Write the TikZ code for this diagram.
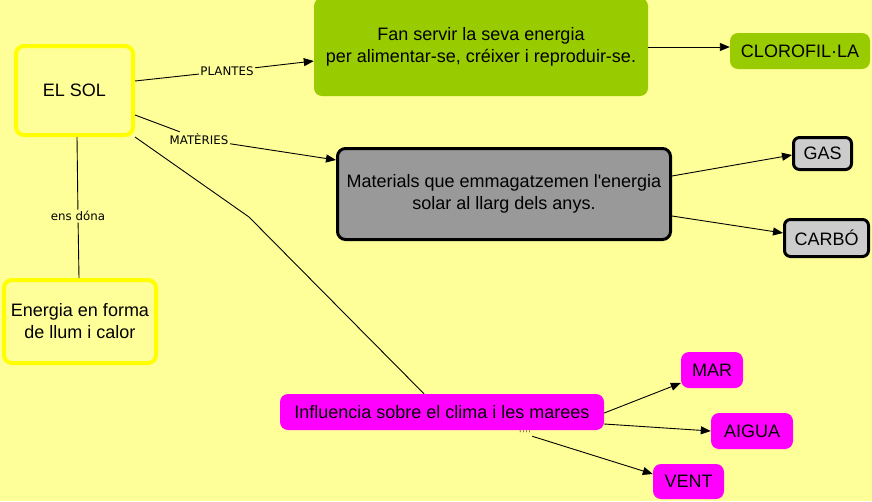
\documentclass[tikz,border=0pt]{standalone}
\usepackage{fontspec}
\setmainfont{Liberation Sans}
\newfontfamily\labfont{DejaVu Sans}
\usetikzlibrary{arrows.meta}
\definecolor{bgc}{HTML}{FFFF99}
\definecolor{sunc}{HTML}{FFFF00}
\definecolor{greenc}{HTML}{99CC00}
\definecolor{grayc}{HTML}{999999}
\definecolor{lgrayc}{HTML}{CCCCCC}
\definecolor{magc}{HTML}{FF00FF}
\begin{document}
\begin{tikzpicture}[x=1pt,y=-1pt,
  every node/.style={font=\fontsize{18}{22}\selectfont, align=center, inner sep=0pt},
  box/.style={rectangle, rounded corners=8pt},
  sunbox/.style={box, draw=sunc, line width=4pt, fill=bgc},
  greenbox/.style={box, fill=greenc},
  graybox/.style={box, draw=black, line width=3pt, fill=grayc},
  lgbox/.style={box, rounded corners=6pt, draw=black, line width=3pt, fill=lgrayc},
  magbox/.style={box, fill=magc},
  lab/.style={font=\labfont\fontsize{11.8}{13}\selectfont, fill=bgc, inner sep=1.5pt},
  conn/.style={line width=0.9pt, black},
  arr/.style={conn, -{Triangle[length=10pt,width=8pt]}}
]
\fill[bgc] (0,0) rectangle (872,501);
\useasboundingbox (0,0) rectangle (872,501);

% nodes
\node[sunbox, minimum width=117pt, minimum height=89pt] (sol) at (74.5,90.5) {EL SOL};
\node[sunbox, minimum width=152pt, minimum height=83pt] (energia) at (80,321.5) {Energia en forma\\de llum i calor};
\node[greenbox, minimum width=334pt, minimum height=98pt] (fan) at (481,47) {Fan servir la seva energia\\per alimentar-se, créixer i reproduir-se.};
\node[greenbox, minimum width=140pt, minimum height=36pt] (clor) at (800,51) {CLOROFIL·LA};
\node[graybox, minimum width=333pt, minimum height=91pt] (mat) at (504,194) {Materials que emmagatzemen l\textquotesingle energia\\solar al llarg dels anys.};
\node[lgbox, minimum width=58pt, minimum height=32pt] (gas) at (822.5,153.5) {GAS};
\node[lgbox, minimum width=84pt, minimum height=37pt] (carbo) at (826.5,238) {CARBÓ};
\node[magbox, minimum width=324pt, minimum height=36pt] (infl) at (442,412) {Influencia sobre el clima i les marees};
\node[magbox, minimum width=62pt, minimum height=36pt] (mar) at (712,370) {MAR};
\node[magbox, minimum width=82pt, minimum height=36pt] (aigua) at (752,431) {AIGUA};
\node[magbox, minimum width=71pt, minimum height=35pt] (vent) at (688.5,481.5) {VENT};

% labels
\node[lab] (lplant) at (227,71) {PLANTES};
\node[lab] (lmat) at (199,139) {MATÈRIES};
\node[lab] (lens) at (78,216) {ens dóna};
\coordinate (lclima) at (249,217);
\node[lab, fill=none, font=\fontsize{8}{8}\selectfont] (lvent) at (525,434) {\char39\,\char39\,\char39\,\char39};

% connectors
\draw[conn] ([yshift=9.5pt]sol.east) -- (lplant);
\draw[arr] (lplant) -- ([yshift=-14pt]fan.west);
\draw[conn] ([yshift=-24.5pt]sol.east) -- (lmat);
\draw[arr] (lmat) -- ([yshift=34pt]mat.west);
\draw[conn] (sol.south east) -- (lclima) -- ([xshift=-18pt]infl.north);
\draw[conn] ([xshift=2.5pt]sol.south) -- (lens);
\draw[conn] (lens) -- ([xshift=-1pt]energia.north);
\draw[arr] (fan.east) -- (fan.east -| clor.west);
\draw[arr] ([yshift=18pt]mat.east) -- ([yshift=-1.5pt]gas.west);
\draw[arr] ([yshift=-22pt]mat.east) -- ([yshift=5pt]carbo.west);
\draw[arr] ([yshift=-1pt]infl.east) -- ([yshift=-13pt]mar.west);
\draw[arr] ([yshift=-12pt]infl.east) -- (aigua.west);
\draw[arr] (lvent) -- ([yshift=7.5pt]vent.west);
\end{tikzpicture}
\end{document}
